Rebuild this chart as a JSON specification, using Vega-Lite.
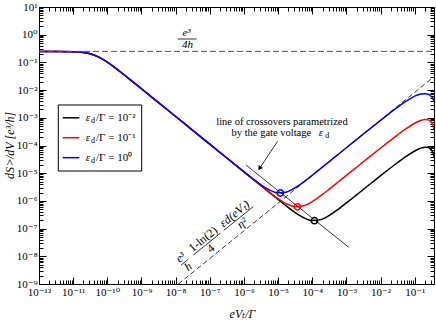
{
"$schema":"https://vega.github.io/schema/vega-lite/v6.json",
"width":395,"height":277,
"autosize":{"type":"none"},
"padding":{"left":39,"top":7,"right":2,"bottom":38},
"background":"white",
"config":{
 "view":{"stroke":"#000","strokeWidth":1},
 "axis":{"grid":false,"domain":false,"tickColor":"#000","tickWidth":1,"labelFont":"Liberation Serif, DejaVu Serif","labelFontSize":11,"labelColor":"#000","titleFont":"Liberation Serif, DejaVu Serif","titleFontSize":12,"titleColor":"#000","titleFontWeight":"normal","labelFlush":false,"labelOverlap":false,"labelBound":false},
 "text":{"font":"Liberation Serif","fontSize":11,"color":"#000"}
},
"datasets":{
 "curves":[
  {"s":"black","x":1e-12,"y":0.25},{"s":"black","x":3.162e-12,"y":0.2495},{"s":"black","x":1e-11,"y":0.2438},{"s":"black","x":1.778e-11,"y":0.2323},{"s":"black","x":3.162e-11,"y":0.2042},{"s":"black","x":5.623e-11,"y":0.1556},{"s":"black","x":1e-10,"y":0.1021},{"s":"black","x":1.778e-10,"y":0.06095},{"s":"black","x":3.162e-10,"y":0.03499},{"s":"black","x":5.623e-10,"y":0.01982},{"s":"black","x":1e-9,"y":0.01117},{"s":"black","x":3.162e-9,"y":0.003532},{"s":"black","x":1e-8,"y":0.001117},{"s":"black","x":3.162e-8,"y":0.0003532},{"s":"black","x":1e-7,"y":0.0001117},{"s":"black","x":3.162e-7,"y":3.532e-5},{"s":"black","x":1e-6,"y":1.117e-5},
  {"s":"black","x":1.778e-6,"y":6.28e-6},{"s":"black","x":3.162e-6,"y":3.532e-6},{"s":"black","x":5.623e-6,"y":1.991e-6},{"s":"black","x":1e-5,"y":1.125e-6},{"s":"black","x":1.778e-5,"y":6.43e-7},{"s":"black","x":3.162e-5,"y":3.79e-7},{"s":"black","x":5.623e-5,"y":2.455e-7},{"s":"black","x":1e-4,"y":1.95e-7},{"s":"black","x":1.778e-4,"y":2.109e-7},{"s":"black","x":3.162e-4,"y":2.985e-7},{"s":"black","x":5.623e-4,"y":4.875e-7},{"s":"black","x":1e-3,"y":8.43e-7},{"s":"black","x":1.778e-3,"y":1.479e-6},{"s":"black","x":3.162e-3,"y":2.614e-6},{"s":"black","x":5.623e-3,"y":4.615e-6},{"s":"black","x":0.01,"y":8.12e-6},{"s":"black","x":0.01778,"y":1.416e-5},{"s":"black","x":0.03162,"y":2.432e-5},{"s":"black","x":0.05623,"y":4.055e-5},{"s":"black","x":0.1,"y":6.34e-5},{"s":"black","x":0.1259,"y":7.33e-5},{"s":"black","x":0.1585,"y":8.2e-5},{"s":"black","x":0.1995,"y":8.71e-5},{"s":"black","x":0.2512,"y":8.4e-5},{"s":"black","x":0.2818,"y":7.71e-5},{"s":"black","x":0.3162,"y":6.5e-5},{"s":"black","x":0.3388,"y":5.45e-5},{"s":"black","x":0.366,"y":3.93e-5},
  {"s":"red","x":1e-12,"y":0.25},{"s":"red","x":3.162e-12,"y":0.2495},{"s":"red","x":1e-11,"y":0.2438},{"s":"red","x":1.778e-11,"y":0.2323},{"s":"red","x":3.162e-11,"y":0.2042},{"s":"red","x":5.623e-11,"y":0.1556},{"s":"red","x":1e-10,"y":0.1021},{"s":"red","x":1.778e-10,"y":0.06095},{"s":"red","x":3.162e-10,"y":0.03499},{"s":"red","x":5.623e-10,"y":0.01982},{"s":"red","x":1e-9,"y":0.01117},{"s":"red","x":3.162e-9,"y":0.003532},{"s":"red","x":1e-8,"y":0.001117},{"s":"red","x":3.162e-8,"y":0.0003532},{"s":"red","x":1e-7,"y":0.0001117},{"s":"red","x":3.162e-7,"y":3.532e-5},{"s":"red","x":1e-6,"y":1.119e-5},
  {"s":"red","x":1.778e-6,"y":6.3e-6},{"s":"red","x":3.162e-6,"y":3.556e-6},{"s":"red","x":5.623e-6,"y":2.032e-6},{"s":"red","x":1e-5,"y":1.2e-6},{"s":"red","x":1.778e-5,"y":7.76e-7},{"s":"red","x":3.162e-5,"y":6.17e-7},{"s":"red","x":5.623e-5,"y":6.67e-7},{"s":"red","x":1e-4,"y":9.44e-7},{"s":"red","x":1.778e-4,"y":1.542e-6},{"s":"red","x":3.162e-4,"y":2.667e-6},{"s":"red","x":5.623e-4,"y":4.7e-6},{"s":"red","x":1e-3,"y":8.34e-6},{"s":"red","x":1.778e-3,"y":1.472e-5},{"s":"red","x":3.162e-3,"y":2.612e-5},{"s":"red","x":5.623e-3,"y":4.615e-5},{"s":"red","x":0.01,"y":8.12e-5},{"s":"red","x":0.01778,"y":1.416e-4},{"s":"red","x":0.03162,"y":2.432e-4},{"s":"red","x":0.05623,"y":4.055e-4},{"s":"red","x":0.1,"y":6.34e-4},{"s":"red","x":0.1259,"y":7.33e-4},{"s":"red","x":0.1585,"y":8.2e-4},{"s":"red","x":0.1995,"y":8.71e-4},{"s":"red","x":0.2512,"y":8.4e-4},{"s":"red","x":0.2818,"y":7.71e-4},{"s":"red","x":0.3162,"y":6.5e-4},{"s":"red","x":0.3388,"y":5.45e-4},{"s":"red","x":0.366,"y":3.93e-4},
  {"s":"blue","x":1e-12,"y":0.25},{"s":"blue","x":3.162e-12,"y":0.2495},{"s":"blue","x":1e-11,"y":0.2438},{"s":"blue","x":1.778e-11,"y":0.2323},{"s":"blue","x":3.162e-11,"y":0.2042},{"s":"blue","x":5.623e-11,"y":0.1556},{"s":"blue","x":1e-10,"y":0.1021},{"s":"blue","x":1.778e-10,"y":0.06095},{"s":"blue","x":3.162e-10,"y":0.03499},{"s":"blue","x":5.623e-10,"y":0.01982},{"s":"blue","x":1e-9,"y":0.01117},{"s":"blue","x":3.162e-9,"y":0.003532},{"s":"blue","x":1e-8,"y":0.001117},{"s":"blue","x":3.162e-8,"y":0.0003532},{"s":"blue","x":1e-7,"y":0.0001117},{"s":"blue","x":3.162e-7,"y":3.532e-5},{"s":"blue","x":1e-6,"y":1.125e-5},
  {"s":"blue","x":1.778e-6,"y":6.43e-6},{"s":"blue","x":3.162e-6,"y":3.79e-6},{"s":"blue","x":5.623e-6,"y":2.455e-6},{"s":"blue","x":1e-5,"y":1.95e-6},{"s":"blue","x":1.778e-5,"y":2.109e-6},{"s":"blue","x":3.162e-5,"y":2.985e-6},{"s":"blue","x":5.623e-5,"y":4.875e-6},{"s":"blue","x":1e-4,"y":8.43e-6},{"s":"blue","x":1.778e-4,"y":1.486e-5},{"s":"blue","x":3.162e-4,"y":2.63e-5},{"s":"blue","x":5.623e-4,"y":4.68e-5},{"s":"blue","x":1e-3,"y":8.32e-5},{"s":"blue","x":1.778e-3,"y":1.472e-4},{"s":"blue","x":3.162e-3,"y":2.612e-4},{"s":"blue","x":5.623e-3,"y":4.615e-4},{"s":"blue","x":0.01,"y":8.12e-4},{"s":"blue","x":0.01778,"y":1.416e-3},{"s":"blue","x":0.03162,"y":2.432e-3},{"s":"blue","x":0.05623,"y":3.98e-3},{"s":"blue","x":0.1,"y":6.03e-3},{"s":"blue","x":0.1259,"y":6.76e-3},{"s":"blue","x":0.1585,"y":7.24e-3},{"s":"blue","x":0.1995,"y":7.41e-3},{"s":"blue","x":0.2512,"y":7.08e-3},{"s":"blue","x":0.2818,"y":6.46e-3},{"s":"blue","x":0.3162,"y":5.62e-3},{"s":"blue","x":0.3388,"y":4.9e-3},{"s":"blue","x":0.366,"y":3.98e-3}
 ],
 "hline":[{"x":1e-12,"y":0.25},{"x":0.366,"y":0.25}],
 "diag":[{"x":1.202e-8,"y":1e-9},{"x":0.335,"y":0.0279}],
 "cross":[{"x":1.148e-6,"y":1.977e-5},{"x":1.164e-3,"y":2.12e-8}],
 "arrow":[{"x":9.59e-6,"y":1.393e-4},{"x":2.948e-6,"y":1.567e-5}],
 "arrowhead":[{"x":2.948e-6,"y":1.567e-5}],
 "mins":[{"s":"blue","x":1.161e-5,"y":1.93e-6},{"s":"red","x":3.67e-5,"y":6.11e-7},{"s":"black","x":1.161e-4,"y":1.93e-7}],
 "legbox":[{"x":3.67e-12,"x2":1.014e-9,"y":1.2e-5,"y2":2.9e-3}],
 "leglines":[{"s":"black","x":4.94e-12,"x2":1.514e-11,"y":1e-3},{"s":"red","x":4.94e-12,"x2":1.514e-11,"y":1.91e-4},{"s":"blue","x":4.94e-12,"x2":1.514e-11,"y":3.63e-5}],
 "italicText":[{"t":"e³","x":2.08e-8,"y":1.123},{"t":"4h","x":2.223e-8,"y":0.4355},{"t":"ε","x":1.8e-4,"y":2.825e-4},{"t":"ε","x":2.72e-11,"y":1e-3},{"t":"ε","x":2.72e-11,"y":1.91e-4},{"t":"ε","x":2.72e-11,"y":3.63e-5}],
 "subText":[{"t":"d","x":3.81e-11,"y":1e-3},{"t":"d","x":3.81e-11,"y":1.91e-4},{"t":"d","x":3.81e-11,"y":3.63e-5},{"t":"d","x":2.75e-4,"y":2.825e-4}],
 "centerText":[{"t":"line of crossovers parametrized","x":1.3e-5,"y":7.05e-4},{"t":"by the gate voltage","x":6.35e-6,"y":2.825e-4}],
 "legText":[{"t":"/Γ = 10⁻²","x":4.67e-11,"y":1e-3},{"t":"/Γ = 10⁻¹","x":4.67e-11,"y":1.91e-4},{"t":"/Γ = 10⁰","x":4.67e-11,"y":3.63e-5}],
 "rotItalic":[{"t":"e³","x":1.378e-8,"y":9.28e-9},{"t":"h","x":2.293e-8,"y":4.283e-9},{"t":"εd(eVₜ)","x":5.25e-7,"y":3.51e-7},{"t":"η²","x":8.76e-7,"y":1.62e-7}],
 "rotRoman":[{"t":"1-ln(2)","x":6.28e-8,"y":4.21e-8},{"t":"4","x":1.048e-7,"y":1.944e-8}],
 "bars":[{"x":1.148e-8,"y":0.7,"x2":4.14e-8,"y2":0.7},{"x":1.435e-8,"y":4.813e-9,"x2":2.3e-8,"y2":7.73e-9},{"x":3.311e-8,"y":1.114e-8,"x2":2.07e-7,"y2":6.94e-8},{"x":2.553e-7,"y":8.54e-8,"x2":1.877e-6,"y2":6.22e-7}]
},
"resolve":{"axis":{"x":"independent","y":"independent"}},
"layer":[
 {"data":{"name":"curves"},"transform":[{"filter":"datum.s === 'black'"}],
  "mark":{"type":"line","color":"#000","strokeWidth":1.5,"interpolate":"monotone","clip":true},
  "encoding":{
   "x":{"field":"x","type":"quantitative","scale":{"type":"log","domain":[1e-12,0.366],"nice":false},
    "axis":{"orient":"bottom","values":[1e-12,1e-11,1e-10,1e-9,1e-8,1e-7,1e-6,1e-5,1e-4,1e-3,1e-2,1e-1],"tickSize":-7,"labelPadding":9,"labelExpr":"'10' + ['⁻¹²','⁻¹¹','⁻¹⁰','⁻⁹','⁻⁸','⁻⁷','⁻⁶','⁻⁵','⁻⁴','⁻³','⁻²','⁻¹','⁰','¹'][round(log(datum.value)/LN10)+12]","title":"eVₜ/Γ","titleFontStyle":"italic","titleX":203,"titleY":29,"titleBaseline":"middle","titleAlign":"center"}},
   "y":{"field":"y","type":"quantitative","scale":{"type":"log","domain":[1e-9,10],"nice":false},
    "axis":{"orient":"left","values":[1e-9,1e-8,1e-7,1e-6,1e-5,1e-4,1e-3,1e-2,1e-1,1,10],"tickSize":-7,"labelPadding":9,"labelExpr":"'10' + ['⁻¹²','⁻¹¹','⁻¹⁰','⁻⁹','⁻⁸','⁻⁷','⁻⁶','⁻⁵','⁻⁴','⁻³','⁻²','⁻¹','⁰','¹'][round(log(datum.value)/LN10)+12]","title":"dS˃/dV [e³/h]","titleFontStyle":"italic","titleX":-30,"titleY":138,"titleAngle":-90,"titleBaseline":"middle","titleAlign":"center"}}}},
 {"data":{"name":"curves"},"transform":[{"filter":"datum.s === 'red'"}],
  "mark":{"type":"line","color":"#ff0000","strokeWidth":1.5,"interpolate":"monotone","clip":true},
  "encoding":{
   "x":{"field":"x","type":"quantitative","scale":{"type":"log","domain":[1e-12,0.366],"nice":false},
    "axis":{"orient":"bottom","values":[2e-12,3e-12,4e-12,5e-12,6e-12,7e-12,8e-12,9e-12,2e-11,3e-11,4e-11,5e-11,6e-11,7e-11,8e-11,9e-11,2e-10,3e-10,4e-10,5e-10,6e-10,7e-10,8e-10,9e-10,2e-9,3e-9,4e-9,5e-9,6e-9,7e-9,8e-9,9e-9,2e-8,3e-8,4e-8,5e-8,6e-8,7e-8,8e-8,9e-8,2e-7,3e-7,4e-7,5e-7,6e-7,7e-7,8e-7,9e-7,2e-6,3e-6,4e-6,5e-6,6e-6,7e-6,8e-6,9e-6,2e-5,3e-5,4e-5,5e-5,6e-5,7e-5,8e-5,9e-5,2e-4,3e-4,4e-4,5e-4,6e-4,7e-4,8e-4,9e-4,2e-3,3e-3,4e-3,5e-3,6e-3,7e-3,8e-3,9e-3,2e-2,3e-2,4e-2,5e-2,6e-2,7e-2,8e-2,9e-2,0.2,0.3],"tickSize":-4,"labels":false,"title":null}},
   "y":{"field":"y","type":"quantitative","scale":{"type":"log","domain":[1e-9,10],"nice":false},
    "axis":{"orient":"left","values":[2e-9,3e-9,4e-9,5e-9,6e-9,7e-9,8e-9,9e-9,2e-8,3e-8,4e-8,5e-8,6e-8,7e-8,8e-8,9e-8,2e-7,3e-7,4e-7,5e-7,6e-7,7e-7,8e-7,9e-7,2e-6,3e-6,4e-6,5e-6,6e-6,7e-6,8e-6,9e-6,2e-5,3e-5,4e-5,5e-5,6e-5,7e-5,8e-5,9e-5,2e-4,3e-4,4e-4,5e-4,6e-4,7e-4,8e-4,9e-4,2e-3,3e-3,4e-3,5e-3,6e-3,7e-3,8e-3,9e-3,2e-2,3e-2,4e-2,5e-2,6e-2,7e-2,8e-2,9e-2,0.2,0.3,0.4,0.5,0.6,0.7,0.8,0.9,2,3,4,5,6,7,8,9],"tickSize":-4,"labels":false,"title":null}}}},
 {"data":{"name":"curves"},"transform":[{"filter":"datum.s === 'blue'"}],
  "mark":{"type":"line","color":"#0000ff","strokeWidth":1.5,"interpolate":"monotone","clip":true},
  "encoding":{
   "x":{"field":"x","type":"quantitative","scale":{"type":"log","domain":[1e-12,0.366],"nice":false},
    "axis":{"orient":"top","values":[1e-12,1e-11,1e-10,1e-9,1e-8,1e-7,1e-6,1e-5,1e-4,1e-3,1e-2,1e-1],"tickSize":-7,"labels":false,"title":null}},
   "y":{"field":"y","type":"quantitative","scale":{"type":"log","domain":[1e-9,10],"nice":false},
    "axis":{"orient":"right","values":[1e-9,1e-8,1e-7,1e-6,1e-5,1e-4,1e-3,1e-2,1e-1,1,10],"tickSize":-7,"labels":false,"title":null}}}},
 {"data":{"name":"hline"},
  "mark":{"type":"line","color":"#555","strokeWidth":1,"strokeDash":[6,3],"clip":true},
  "encoding":{
   "x":{"field":"x","type":"quantitative","scale":{"type":"log","domain":[1e-12,0.366],"nice":false},
    "axis":{"orient":"top","values":[2e-12,3e-12,4e-12,5e-12,6e-12,7e-12,8e-12,9e-12,2e-11,3e-11,4e-11,5e-11,6e-11,7e-11,8e-11,9e-11,2e-10,3e-10,4e-10,5e-10,6e-10,7e-10,8e-10,9e-10,2e-9,3e-9,4e-9,5e-9,6e-9,7e-9,8e-9,9e-9,2e-8,3e-8,4e-8,5e-8,6e-8,7e-8,8e-8,9e-8,2e-7,3e-7,4e-7,5e-7,6e-7,7e-7,8e-7,9e-7,2e-6,3e-6,4e-6,5e-6,6e-6,7e-6,8e-6,9e-6,2e-5,3e-5,4e-5,5e-5,6e-5,7e-5,8e-5,9e-5,2e-4,3e-4,4e-4,5e-4,6e-4,7e-4,8e-4,9e-4,2e-3,3e-3,4e-3,5e-3,6e-3,7e-3,8e-3,9e-3,2e-2,3e-2,4e-2,5e-2,6e-2,7e-2,8e-2,9e-2,0.2,0.3],"tickSize":-4,"labels":false,"title":null}},
   "y":{"field":"y","type":"quantitative","scale":{"type":"log","domain":[1e-9,10],"nice":false},
    "axis":{"orient":"right","values":[2e-9,3e-9,4e-9,5e-9,6e-9,7e-9,8e-9,9e-9,2e-8,3e-8,4e-8,5e-8,6e-8,7e-8,8e-8,9e-8,2e-7,3e-7,4e-7,5e-7,6e-7,7e-7,8e-7,9e-7,2e-6,3e-6,4e-6,5e-6,6e-6,7e-6,8e-6,9e-6,2e-5,3e-5,4e-5,5e-5,6e-5,7e-5,8e-5,9e-5,2e-4,3e-4,4e-4,5e-4,6e-4,7e-4,8e-4,9e-4,2e-3,3e-3,4e-3,5e-3,6e-3,7e-3,8e-3,9e-3,2e-2,3e-2,4e-2,5e-2,6e-2,7e-2,8e-2,9e-2,0.2,0.3,0.4,0.5,0.6,0.7,0.8,0.9,2,3,4,5,6,7,8,9],"tickSize":-4,"labels":false,"title":null}}}},
 {"data":{"name":"diag"},
  "mark":{"type":"line","color":"#000","strokeWidth":0.8,"strokeDash":[5,3],"clip":true},
  "encoding":{"x":{"field":"x","type":"quantitative","scale":{"type":"log","domain":[1e-12,0.366],"nice":false},"axis":null},
   "y":{"field":"y","type":"quantitative","scale":{"type":"log","domain":[1e-9,10],"nice":false},"axis":null}}},
 {"data":{"name":"cross"},
  "mark":{"type":"line","color":"#000","strokeWidth":0.8,"clip":true},
  "encoding":{"x":{"field":"x","type":"quantitative","scale":{"type":"log","domain":[1e-12,0.366],"nice":false},"axis":null},
   "y":{"field":"y","type":"quantitative","scale":{"type":"log","domain":[1e-9,10],"nice":false},"axis":null}}},
 {"data":{"name":"arrow"},
  "mark":{"type":"line","color":"#000","strokeWidth":0.8},
  "encoding":{"x":{"field":"x","type":"quantitative","scale":{"type":"log","domain":[1e-12,0.366],"nice":false},"axis":null},
   "y":{"field":"y","type":"quantitative","scale":{"type":"log","domain":[1e-9,10],"nice":false},"axis":null}}},
 {"data":{"name":"arrowhead"},
  "mark":{"type":"point","shape":"triangle","filled":true,"size":28,"angle":214,"color":"#000","opacity":1},
  "encoding":{"x":{"field":"x","type":"quantitative","scale":{"type":"log","domain":[1e-12,0.366],"nice":false},"axis":null},
   "y":{"field":"y","type":"quantitative","scale":{"type":"log","domain":[1e-9,10],"nice":false},"axis":null}}},
 {"data":{"name":"mins"},
  "mark":{"type":"point","filled":false,"size":40,"strokeWidth":1.5,"opacity":1},
  "encoding":{"x":{"field":"x","type":"quantitative","scale":{"type":"log","domain":[1e-12,0.366],"nice":false},"axis":null},
   "y":{"field":"y","type":"quantitative","scale":{"type":"log","domain":[1e-9,10],"nice":false},"axis":null},
   "color":{"field":"s","type":"nominal","scale":{"domain":["black","red","blue"],"range":["#000000","#ff0000","#0000ff"]},"legend":null}}},
 {"data":{"name":"legbox"},
  "mark":{"type":"rect","fill":"white","stroke":"#000","strokeWidth":1},
  "encoding":{"x":{"field":"x","type":"quantitative","scale":{"type":"log","domain":[1e-12,0.366],"nice":false},"axis":null},"x2":{"field":"x2"},
   "y":{"field":"y","type":"quantitative","scale":{"type":"log","domain":[1e-9,10],"nice":false},"axis":null},"y2":{"field":"y2"}}},
 {"data":{"name":"leglines"},
  "mark":{"type":"rule","strokeWidth":1.5},
  "encoding":{"x":{"field":"x","type":"quantitative","scale":{"type":"log","domain":[1e-12,0.366],"nice":false},"axis":null},"x2":{"field":"x2"},
   "y":{"field":"y","type":"quantitative","scale":{"type":"log","domain":[1e-9,10],"nice":false},"axis":null},
   "color":{"field":"s","type":"nominal","scale":{"domain":["black","red","blue"],"range":["#000000","#ff0000","#0000ff"]},"legend":null}}},
 {"data":{"name":"bars"},
  "mark":{"type":"rule","color":"#000","strokeWidth":0.8},
  "encoding":{"x":{"field":"x","type":"quantitative","scale":{"type":"log","domain":[1e-12,0.366],"nice":false},"axis":null},"x2":{"field":"x2"},
   "y":{"field":"y","type":"quantitative","scale":{"type":"log","domain":[1e-9,10],"nice":false},"axis":null},"y2":{"field":"y2"}}},
 {"data":{"name":"italicText"},
  "mark":{"type":"text","font":"Liberation Serif","fontStyle":"italic","fontSize":11,"align":"center","baseline":"middle"},
  "encoding":{"x":{"field":"x","type":"quantitative","scale":{"type":"log","domain":[1e-12,0.366],"nice":false},"axis":null},
   "y":{"field":"y","type":"quantitative","scale":{"type":"log","domain":[1e-9,10],"nice":false},"axis":null},"text":{"field":"t"}}},
 {"data":{"name":"subText"},
  "mark":{"type":"text","font":"Liberation Serif","fontSize":8,"align":"center","baseline":"middle","dy":3},
  "encoding":{"x":{"field":"x","type":"quantitative","scale":{"type":"log","domain":[1e-12,0.366],"nice":false},"axis":null},
   "y":{"field":"y","type":"quantitative","scale":{"type":"log","domain":[1e-9,10],"nice":false},"axis":null},"text":{"field":"t"}}},
 {"data":{"name":"centerText"},
  "mark":{"type":"text","font":"Liberation Serif","fontSize":10.5,"align":"center","baseline":"middle"},
  "encoding":{"x":{"field":"x","type":"quantitative","scale":{"type":"log","domain":[1e-12,0.366],"nice":false},"axis":null},
   "y":{"field":"y","type":"quantitative","scale":{"type":"log","domain":[1e-9,10],"nice":false},"axis":null},"text":{"field":"t"}}},
 {"data":{"name":"legText"},
  "mark":{"type":"text","font":"Liberation Serif","fontSize":11,"align":"left","baseline":"middle"},
  "encoding":{"x":{"field":"x","type":"quantitative","scale":{"type":"log","domain":[1e-12,0.366],"nice":false},"axis":null},
   "y":{"field":"y","type":"quantitative","scale":{"type":"log","domain":[1e-9,10],"nice":false},"axis":null},"text":{"field":"t"}}},
 {"data":{"name":"rotItalic"},
  "mark":{"type":"text","font":"Liberation Serif","fontStyle":"italic","fontSize":12,"align":"center","baseline":"middle","angle":321},
  "encoding":{"x":{"field":"x","type":"quantitative","scale":{"type":"log","domain":[1e-12,0.366],"nice":false},"axis":null},
   "y":{"field":"y","type":"quantitative","scale":{"type":"log","domain":[1e-9,10],"nice":false},"axis":null},"text":{"field":"t"}}},
 {"data":{"name":"rotRoman"},
  "mark":{"type":"text","font":"Liberation Serif","fontSize":12,"align":"center","baseline":"middle","angle":321},
  "encoding":{"x":{"field":"x","type":"quantitative","scale":{"type":"log","domain":[1e-12,0.366],"nice":false},"axis":null},
   "y":{"field":"y","type":"quantitative","scale":{"type":"log","domain":[1e-9,10],"nice":false},"axis":null},"text":{"field":"t"}}}
]
}
